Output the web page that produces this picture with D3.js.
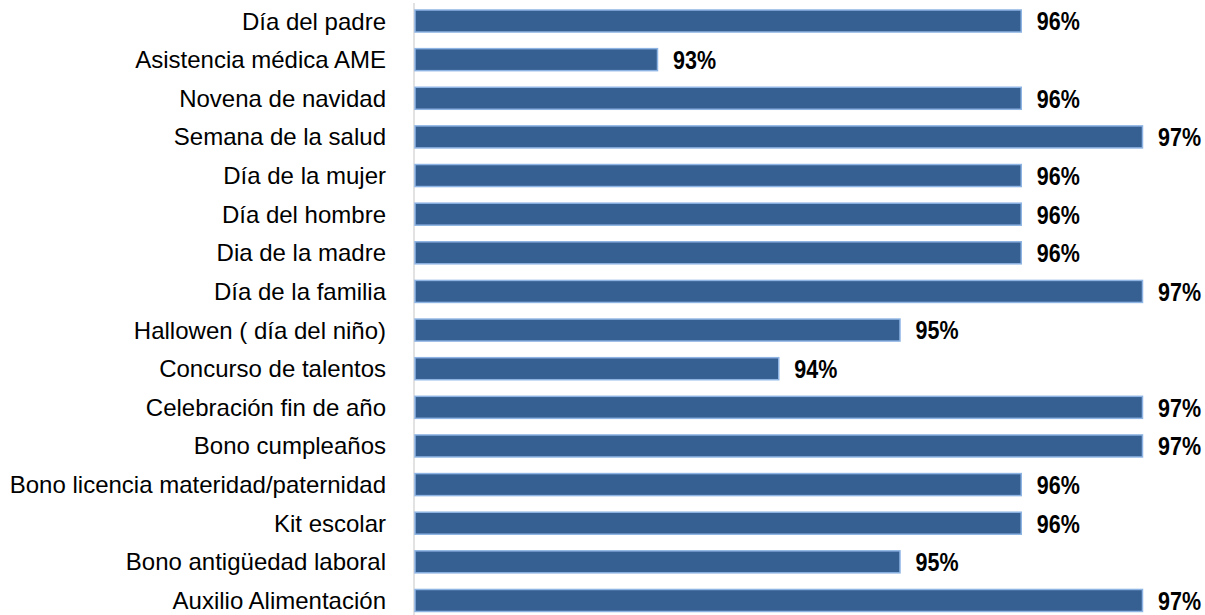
<!DOCTYPE html>
<html>
<head>
<meta charset="utf-8">
<script src="https://cdn.jsdelivr.net/npm/d3@7"></script>
<style>
  html, body { margin: 0; padding: 0; background: #ffffff; }
  svg { display: block; }
</style>
</head>
<body>
<svg id="chart" width="1205" height="615"></svg>
<script>
// Benefit programmes, top to bottom
const categories = [
  "Día del padre",
  "Asistencia médica AME",
  "Novena de navidad",
  "Semana de la salud",
  "Día de la mujer",
  "Día del hombre",
  "Dia de la madre",
  "Día de la familia",
  "Hallowen ( día del niño)",
  "Concurso de talentos",
  "Celebración fin de año",
  "Bono cumpleaños",
  "Bono licencia materidad/paternidad",
  "Kit escolar",
  "Bono antigüedad laboral",
  "Auxilio Alimentación"
];

// Satisfaction (%) per programme
const values = [96, 93, 96, 97, 96, 96, 96, 97, 95, 94, 97, 97, 96, 96, 95, 97];

// Value axis bounds (%)
const axisMin = 91;
const axisMax = 97;

const svg = d3.select("#chart");

const x = d3.scaleLinear()
  .domain([axisMin, axisMax])
  .range([415, 1142.5]);

const y = d3.scaleBand()
  .domain(categories)
  .range([1.7, 619.8])
  .paddingInner(0.43)
  .paddingOuter(0.215);

// Vertical category axis line
svg.append("line")
  .attr("x1", 414).attr("x2", 414)
  .attr("y1", 3).attr("y2", 615)
  .attr("stroke", "#d9d9d9")
  .attr("stroke-width", 1.5);

// Bars
svg.append("g")
  .selectAll("rect")
  .data(categories)
  .join("rect")
  .attr("x", x(axisMin))
  .attr("y", d => y(d))
  .attr("width", (d, i) => x(values[i]) - x(axisMin))
  .attr("height", y.bandwidth())
  .attr("fill", "#376092")
  .attr("stroke", "#8eb4e3")
  .attr("stroke-width", 1.5);

// Category labels
svg.append("g")
  .selectAll("text")
  .data(categories)
  .join("text")
  .attr("x", 386)
  .attr("y", d => y(d) + y.bandwidth() / 2 + 8.5)
  .attr("text-anchor", "end")
  .attr("font-family", "'Liberation Sans', Arial, sans-serif")
  .attr("font-size", 24)
  .attr("fill", "#000000")
  .text(d => d);

// Value labels, set in a condensed bold face
svg.append("g")
  .selectAll("text")
  .data(categories)
  .join("text")
  .attr("transform", (d, i) =>
    `translate(${x(values[i]) + 15.5},${y(d) + y.bandwidth() / 2 + 9.4}) scale(0.86,1)`)
  .attr("font-family", "'Liberation Sans', Arial, sans-serif")
  .attr("font-weight", "bold")
  .attr("font-size", 25)
  .attr("fill", "#000000")
  .text((d, i) => values[i] + "%");
</script>
</body>
</html>
